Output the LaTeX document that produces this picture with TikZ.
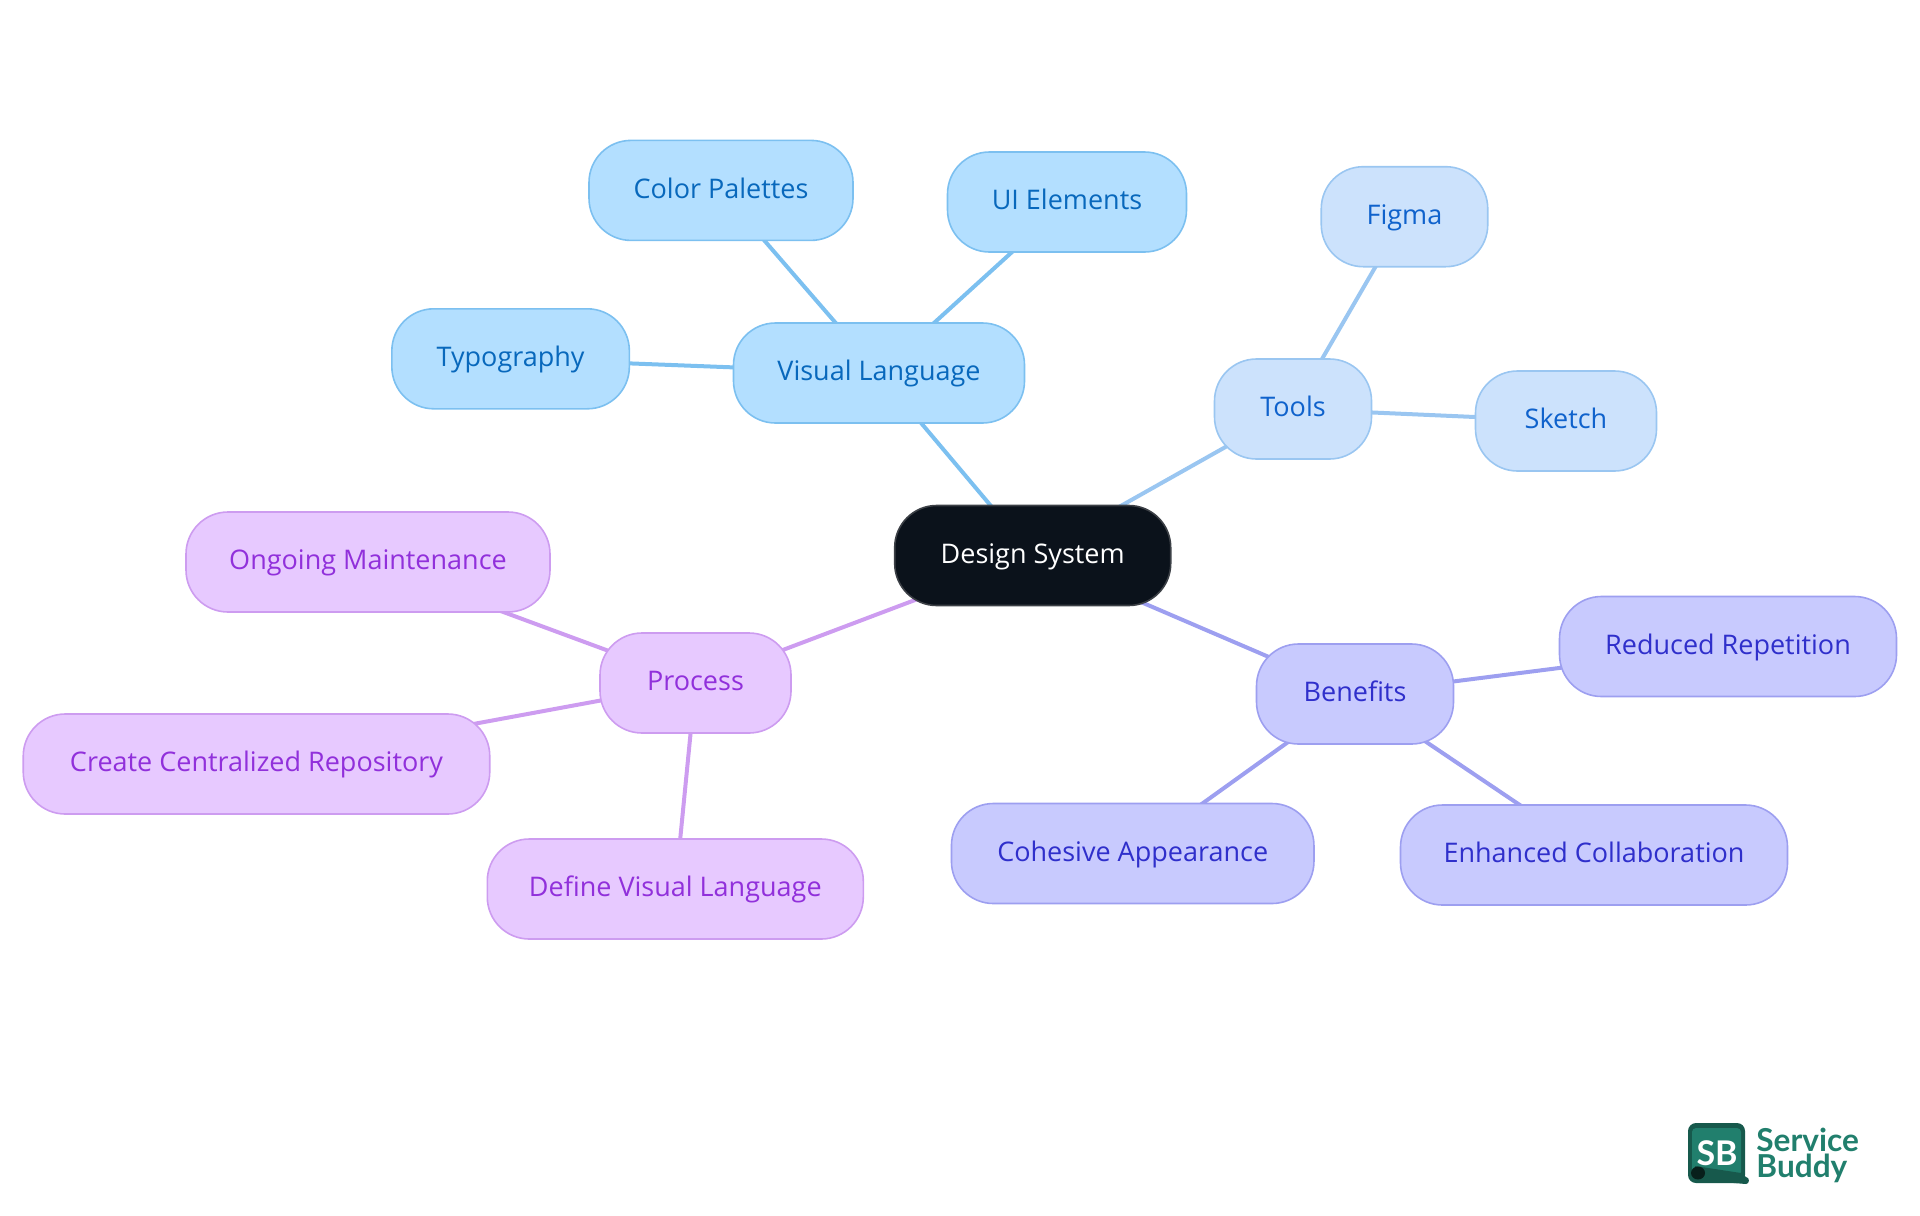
\documentclass[tikz,border=0pt]{standalone}
\usepackage{fontspec}
\setmainfont{Open Sans}
\newfontfamily\logofont{Lato}
\usetikzlibrary{backgrounds}

\definecolor{rootfill}{HTML}{0B121B}
\definecolor{rootline}{HTML}{3C4046}
\definecolor{langfill}{HTML}{B3DFFF}
\definecolor{langline}{HTML}{7CC0F0}
\definecolor{langtext}{HTML}{0868BC}
\definecolor{toolfill}{HTML}{CCE2FC}
\definecolor{toolline}{HTML}{9AC6F1}
\definecolor{tooltext}{HTML}{0F62CC}
\definecolor{benefill}{HTML}{C8CAFE}
\definecolor{beneline}{HTML}{9D9FF0}
\definecolor{benetext}{HTML}{2F2FCB}
\definecolor{procfill}{HTML}{E7C9FF}
\definecolor{procline}{HTML}{CD9CF0}
\definecolor{proctext}{HTML}{9130DB}
\definecolor{logodark}{HTML}{17594C}
\definecolor{logogreen}{HTML}{217F6D}

\tikzset{
 x=0.5pt, y=-0.5pt,
 pill/.style={draw, rounded corners=21pt, line width=0.8pt, inner sep=0pt,
   minimum height=50pt, text height=10pt, text depth=2.2pt,
   font=\fontsize{13.5}{16}\selectfont},
 rootpill/.style={pill, fill=rootfill, draw=rootline, text=white},
 langpill/.style={pill, fill=langfill, draw=langline, text=langtext},
 toolpill/.style={pill, fill=toolfill, draw=toolline, text=tooltext},
 benepill/.style={pill, fill=benefill, draw=beneline, text=benetext},
 procpill/.style={pill, fill=procfill, draw=procline, text=proctext},
 langlink/.style={draw=langline, line width=2pt},
 toollink/.style={draw=toolline, line width=2pt},
 benelink/.style={draw=beneline, line width=2pt},
 proclink/.style={draw=procline, line width=2pt},
 logotext/.style={inner sep=0pt, anchor=base west, text=logogreen,
   font=\logofont\fontsize{15.8}{15.8}\selectfont\bfseries}
}

\begin{document}
\begin{tikzpicture}
\useasboundingbox (0,0) rectangle (1920,1215);

\node [rootpill, minimum width=138pt] (root) at (1032.7,555.5) {Design System};

% visual language
\node [langpill, minimum width=145.5pt] (lang) at (879,373) {Visual Language};
\node [langpill, minimum width=132pt] (palettes) at (721,190.4) {Color Palettes};
\node [langpill, minimum width=119.5pt] (elements) at (1067,202) {UI Elements};
\node [langpill, minimum width=118.75pt] (typography) at (510.6,358.8) {Typography};

% tools
\node [toolpill, minimum width=78.5pt] (tools) at (1293,409) {Tools};
\node [toolpill, minimum width=83.25pt] (figma) at (1404.5,216.7) {Figma};
\node [toolpill, minimum width=90.5pt] (sketch) at (1566,421) {Sketch};

% benefits
\node [benepill, minimum width=98.5pt] (benefits) at (1355,694) {Benefits};
\node [benepill, minimum width=168.5pt] (repetition) at (1728,646.5) {Reduced Repetition};
\node [benepill, minimum width=193.5pt] (collaboration) at (1594,855) {Enhanced Collaboration};
\node [benepill, minimum width=181.25pt] (appearance) at (1132.7,853.5) {Cohesive Appearance};

% process
\node [procpill, minimum width=95.5pt] (process) at (695.5,683) {Process};
\node [procpill, minimum width=182pt] (maintenance) at (368,562) {Ongoing Maintenance};
\node [procpill, minimum width=233.25pt] (repository) at (256.5,764) {Create Centralized Repository};
\node [procpill, minimum width=188pt] (visual) at (675.3,889) {Define Visual Language};

\begin{scope}[on background layer]
\draw [langlink] (root.center)--(lang.center);
\draw [langlink] (lang.center)--(palettes.center);
\draw [langlink] (lang.center)--(elements.center);
\draw [langlink] (lang.center)--(typography.center);

\draw [toollink] (root.center)--(tools.center);
\draw [toollink] (tools.center)--(figma.center);
\draw [toollink] (tools.center)--(sketch.center);

\draw [benelink] (root.center)--(benefits.center);
\draw [benelink] (benefits.center)--(repetition.center);
\draw [benelink] (benefits.center)--(collaboration.center);
\draw [benelink] (benefits.center)--(appearance.center);

\draw [proclink] (root.center)--(process.center);
\draw [proclink] (process.center)--(maintenance.center);
\draw [proclink] (process.center)--(repository.center);
\draw [proclink] (process.center)--(visual.center);
\end{scope}

% logo
\fill [logodark, rounded corners=4pt] (1688,1123) rectangle (1745,1183);
\fill [logogreen, rounded corners=2pt] (1692,1128) rectangle (1741,1176);
\fill [logodark] (1695,1166)--(1741,1173)--(1746,1177)
  to [out=0,in=0,looseness=1.4] (1746,1184)--(1697,1180)--cycle;
\fill [black!65!logodark] (1698,1173) ellipse [x radius=7, y radius=6.5];
\node [text=white, inner sep=0pt, anchor=base,
  font=\logofont\fontsize{17}{17}\selectfont\bfseries] (sb) at (1717,1165) {SB};
\node [logotext] (service) at (1756,1151) {Service};
\node [logotext] (buddy) at (1756,1177) {Buddy};
\end{tikzpicture}
\end{document}
